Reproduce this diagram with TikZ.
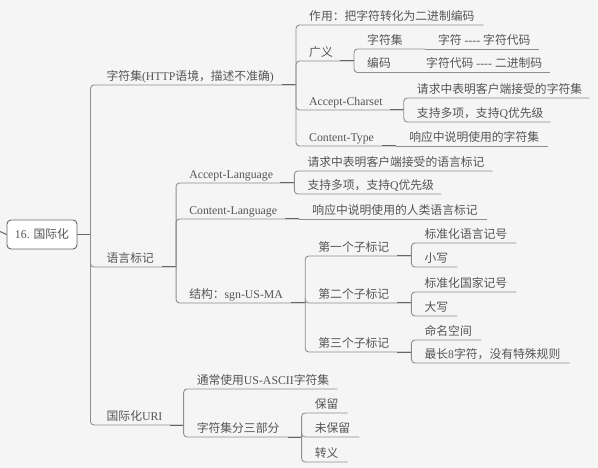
\documentclass[tikz,border=0pt]{standalone}
\usepackage{fontspec}
\usepackage{xcolor}
\setmainfont{Liberation Serif}
\newfontfamily\zhfont{Noto Sans CJK SC}
\newcommand{\zh}[1]{{\zhfont #1}}

\definecolor{bgcol}{HTML}{F5F5F5}
\definecolor{txtcol}{HTML}{555555}
\definecolor{linecol}{HTML}{8E8E8E}
\definecolor{jointcol}{HTML}{666666}

\tikzset{
  topic/.style={anchor=south west, inner xsep=0pt, inner ysep=4.5pt, text depth=0pt,
    text=txtcol, font=\fontsize{11.8}{14}\selectfont},
  branch/.style={draw=linecol, line width=0.9pt, rounded corners=3.5pt},
  joint/.style={draw=jointcol, line width=1pt},
}

\begin{document}
\begin{tikzpicture}[x=1pt,y=-1pt]
  % Background and fixed frame
  \fill[bgcol] (0,0) rectangle (598,468);
  \useasboundingbox (0,0) rectangle (598,468);

  % Root
  \node[draw=jointcol, fill=white, rounded corners=4pt, line width=0.9pt,
    minimum width=70pt, minimum height=29pt, inner sep=0pt, text=txtcol,
    font=\fontsize{11.8}{14}\selectfont] (root) at (42,234.5) {16. \zh{国际化}};
  \coordinate (edge) at (0,231.5);
  \coordinate (root-j) at ([xshift=13pt]root.east);
  \draw[joint] (edge) to[out=0,in=180] (root.west);
  \draw[joint] (root) -- (root-j);

  % First level
  \node[topic, xshift=16pt] (cs) at (root-j |- 0,85) {\zh{字符集}(HTTP\zh{语境，描述不准确})};
  \node[topic, xshift=16pt] (lt) at (root-j |- 0,267) {\zh{语言标记}};
  \node[topic, xshift=16pt] (uri) at (root-j |- 0,425) {\zh{国际化}URI};
  \coordinate (cs-j) at ([xshift=22pt]cs.south east);
  \coordinate (lt-j) at ([xshift=22pt]lt.south east);
  \coordinate (uri-j) at ([xshift=21pt]uri.south east);
  \foreach \n in {cs,lt,uri} {
    \draw[branch] (root-j) |- (\n-j);
    \draw[joint] ([xshift=-14pt]\n-j) -- (\n-j);
  }

  % Character set
  \node[topic, xshift=13pt] (use) at (cs-j |- 0,25) {\zh{作用：把字符转化为二进制编码}};
  \node[topic, xshift=13pt] (broad) at (cs-j |- 0,61) {\zh{广义}};
  \node[topic, xshift=13pt] (ac) at (cs-j |- 0,110) {Accept-Charset};
  \node[topic, xshift=13pt] (ct) at (cs-j |- 0,146) {Content-Type};
  \coordinate (broad-j) at ([xshift=21pt]broad.south east);
  \coordinate (ac-j) at ([xshift=21pt]ac.south east);
  \coordinate (ct-j) at ([xshift=22pt]ct.south east);
  \draw[branch] (cs-j) |- ([xshift=9pt]use.south east);
  \foreach \n in {broad,ac,ct} {
    \draw[branch] (cs-j) |- (\n-j);
    \draw[joint] ([xshift=-14pt]\n-j) -- (\n-j);
  }

  \node[topic, xshift=13pt] (set) at (broad-j |- 0,49) {\zh{字符集}};
  \node[topic, xshift=13pt] (enc) at (broad-j |- 0,72.5) {\zh{编码}};
  \coordinate (set-j) at ([xshift=22pt]set.south east);
  \coordinate (enc-j) at ([xshift=22pt]enc.south east);
  \draw[branch] (broad-j) |- (set-j);
  \draw[branch] (broad-j) |- (enc-j);
  \node[topic, xshift=13pt] (set-a) at (set-j |- 0,49) {\zh{字符} -{}-{}-{}- \zh{字符代码}};
  \node[topic, xshift=13pt] (enc-a) at (enc-j |- 0,72.5) {\zh{字符代码} -{}-{}-{}- \zh{二进制码}};
  \draw[branch] (set-j) -- ([xshift=8pt]set-a.south east);
  \draw[branch] (enc-j) -- ([xshift=8pt]enc-a.south east);

  \node[topic, xshift=13pt] (ac-a) at (ac-j |- 0,98) {\zh{请求中表明客户端接受的字符集}};
  \node[topic, xshift=13pt] (ac-b) at (ac-j |- 0,122) {\zh{支持多项，支持}Q\zh{优先级}};
  \draw[branch] (ac-j) |- ([xshift=7pt]ac-a.south east);
  \draw[branch] (ac-j) |- ([xshift=7pt]ac-b.south east);
  \node[topic, xshift=13pt] (ct-a) at (ct-j |- 0,146) {\zh{响应中说明使用的字符集}};
  \draw[branch] (ct-j) -- ([xshift=9pt]ct-a.south east);

  % Language tags
  \node[topic, xshift=13pt] (al) at (lt-j |- 0,183) {Accept-Language};
  \node[topic, xshift=13pt] (cl) at (lt-j |- 0,219) {Content-Language};
  \node[topic, xshift=13pt] (st) at (lt-j |- 0,303) {\zh{结构：}sgn-US-MA};
  \coordinate (al-j) at ([xshift=21pt]al.south east);
  \coordinate (cl-j) at ([xshift=22pt]cl.south east);
  \coordinate (st-j) at ([xshift=22pt]st.south east);
  \foreach \n in {al,cl,st} {
    \draw[branch] (lt-j) |- (\n-j);
    \draw[joint] ([xshift=-14pt]\n-j) -- (\n-j);
  }

  \node[topic, xshift=13pt] (al-a) at (al-j |- 0,171) {\zh{请求中表明客户端接受的语言标记}};
  \node[topic, xshift=13pt] (al-b) at (al-j |- 0,194) {\zh{支持多项，支持}Q\zh{优先级}};
  \draw[branch] (al-j) |- ([xshift=8pt]al-a.south east);
  \draw[branch] (al-j) |- ([xshift=7pt]al-b.south east);
  \node[topic, xshift=13pt] (cl-a) at (cl-j |- 0,219) {\zh{响应中说明使用的人类语言标记}};
  \draw[branch] (cl-j) -- ([xshift=9pt]cl-a.south east);

  \node[topic, xshift=13pt] (t1) at (st-j |- 0,256) {\zh{第一个子标记}};
  \node[topic, xshift=13pt] (t2) at (st-j |- 0,303) {\zh{第二个子标记}};
  \node[topic, xshift=13pt] (t3) at (st-j |- 0,352) {\zh{第三个子标记}};
  \foreach \n in {t1,t2,t3} {
    \coordinate (\n-j) at ([xshift=22pt]\n.south east);
    \draw[branch] (st-j) |- (\n-j);
    \draw[joint] ([xshift=-14pt]\n-j) -- (\n-j);
  }
  \node[topic, xshift=13pt] (t1-a) at (t1-j |- 0,243) {\zh{标准化语言记号}};
  \node[topic, xshift=13pt] (t1-b) at (t1-j |- 0,267) {\zh{小写}};
  \node[topic, xshift=13pt] (t2-a) at (t2-j |- 0,292) {\zh{标准化国家记号}};
  \node[topic, xshift=13pt] (t2-b) at (t2-j |- 0,316) {\zh{大写}};
  \node[topic, xshift=13pt] (t3-a) at (t3-j |- 0,340) {\zh{命名空间}};
  \node[topic, xshift=13pt] (t3-b) at (t3-j |- 0,363) {\zh{最长}8\zh{字符，没有特殊规则}};
  \foreach \n in {t1,t2,t3} {
    \draw[branch] (\n-j) |- ([xshift=9pt]\n-a.south east);
    \draw[branch] (\n-j) |- ([xshift=9pt]\n-b.south east);
  }

  % URI
  \node[topic, xshift=13pt] (u1) at (uri-j |- 0,389) {\zh{通常使用}US-ASCII\zh{字符集}};
  \node[topic, xshift=13pt] (u2) at (uri-j |- 0,437) {\zh{字符集分三部分}};
  \coordinate (u2-j) at ([xshift=22pt]u2.south east);
  \draw[branch] (uri-j) |- ([xshift=8pt]u1.south east);
  \draw[branch] (uri-j) |- (u2-j);
  \draw[joint] ([xshift=-14pt]u2-j) -- (u2-j);
  \node[topic, xshift=13pt] (u2-a) at (u2-j |- 0,413) {\zh{保留}};
  \node[topic, xshift=13pt] (u2-b) at (u2-j |- 0,437) {\zh{未保留}};
  \node[topic, xshift=13pt] (u2-c) at (u2-j |- 0,462) {\zh{转义}};
  \foreach \m in {a,b,c}
    \draw[branch] (u2-j) |- ([xshift=9pt]u2-\m.south east);
\end{tikzpicture}
\end{document}
